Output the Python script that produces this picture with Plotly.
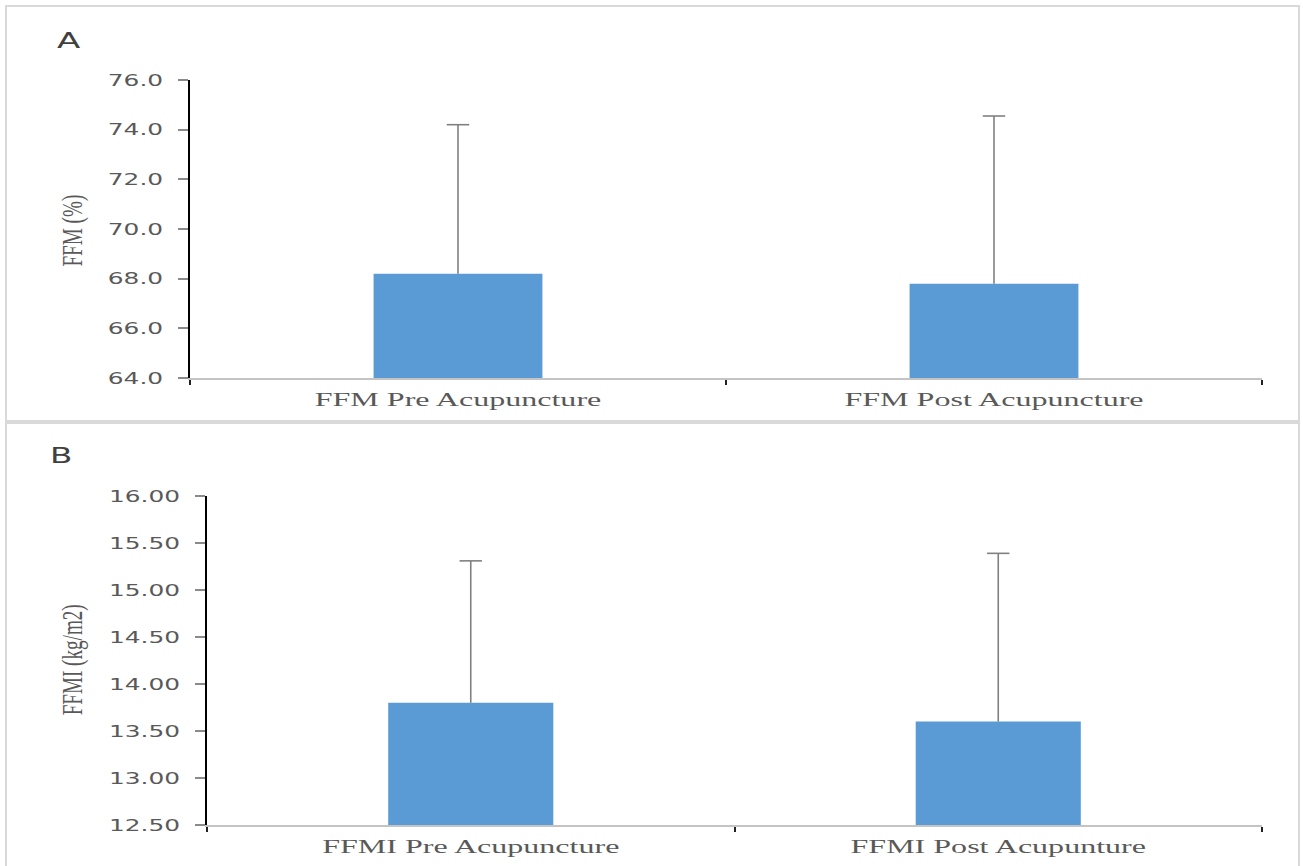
import plotly.graph_objects as go

W, H = 1303, 866

# Data
cats_a = ["FFM Pre Acupuncture", "FFM Post Acupuncture"]
vals_a = [68.2, 67.8]
err_a = [6.0, 6.75]

cats_b = ["FFMI Pre Acupuncture", "FFMI Post Acupunture"]
vals_b = [13.8, 13.6]
err_b = [1.51, 1.79]

BAR = "#5b9bd5"
ERR = "#808080"


def px_x(p):
    return p / W


def px_y(p):
    return 1 - p / H


fig = go.Figure()

err_style = dict(type="data", symmetric=False, color=ERR, thickness=1.6, width=0)

for cats, vals, errs, xa, ya, bw in [(cats_a, vals_a, err_a, "x", "y", 0.315),
                                      (cats_b, vals_b, err_b, "x2", "y2", 0.313)]:
    # bars with upward-only whiskers (no caps)
    fig.add_trace(go.Bar(x=cats, y=vals, xaxis=xa, yaxis=ya,
                         marker=dict(color=BAR, line=dict(width=0)), width=bw,
                         error_y=dict(array=errs, arrayminus=[0] * len(errs), **err_style),
                         showlegend=False))
    # caps at the top of each whisker
    tops = [v + e for v, e in zip(vals, errs)]
    fig.add_trace(go.Scatter(x=cats, y=tops, xaxis=xa, yaxis=ya, mode="markers",
                             marker=dict(symbol="line-ew-open", size=16, color=ERR,
                                         line=dict(color=ERR, width=1.6)),
                             showlegend=False, hoverinfo="skip", cliponaxis=False))

tickfont = dict(family="DejaVu Sans", size=16, color="#595959")
xfont = dict(family="Liberation Serif", size=18, color="#595959")

common_x = dict(showline=True, linecolor="#c4c4c4", linewidth=2, ticks="outside",
                tickson="boundaries", ticklen=5, tickcolor="#222222", tickwidth=1.5,
                showgrid=False, zeroline=False, tickfont=xfont, ticklabelstandoff=4,
                automargin=False, fixedrange=True)
common_y = dict(showline=True, linecolor="#000000", linewidth=1.5, ticks="outside",
                ticklen=10, tickcolor="#8a8a8a", tickwidth=1.5, showgrid=False,
                zeroline=False, tickfont=tickfont, automargin=False, fixedrange=True,
                ticklabelstandoff=12)

fig.update_layout(
    width=W, height=H,
    margin=dict(l=0, r=0, t=0, b=0),
    paper_bgcolor="white", plot_bgcolor="white",
    barmode="overlay",
    xaxis=dict(domain=[px_x(190), px_x(1262)], anchor="y", **common_x),
    yaxis=dict(domain=[px_y(378), px_y(80)], anchor="x", range=[64, 76], dtick=2,
               tickformat=".1f", **common_y),
    xaxis2=dict(domain=[px_x(207), px_x(1262)], anchor="y2", **common_x),
    yaxis2=dict(domain=[px_y(825), px_y(496)], anchor="x2", range=[12.5, 16], dtick=0.5,
                tickformat=".2f", **common_y),
)

# panel borders
for y0, y1 in [(6, 421), (423, 872)]:
    fig.add_shape(type="rect", xref="paper", yref="paper",
                  x0=px_x(6), x1=px_x(1299), y0=px_y(y1), y1=px_y(y0),
                  line=dict(color="#d9d9d9", width=2), fillcolor="rgba(0,0,0,0)")

# panel letters and axis titles
ann = dict(xref="paper", yref="paper", showarrow=False, xanchor="center", yanchor="middle")
fig.add_annotation(text="A", x=px_x(68), y=px_y(40),
                   font=dict(family="DejaVu Sans", size=22, color="#404040"), **ann)
fig.add_annotation(text="B", x=px_x(61), y=px_y(456),
                   font=dict(family="DejaVu Sans", size=21, color="#404040"), **ann)
fig.add_annotation(text="FFM (%)", x=px_x(72), y=px_y(231), textangle=-90,
                   font=dict(family="Liberation Serif", size=29, color="#595959"), **ann)
fig.add_annotation(text="FFMI (kg/m2)", x=px_x(72), y=px_y(660), textangle=-90,
                   font=dict(family="Liberation Serif", size=29, color="#595959"), **ann)

post = """
document.body.style.margin = '0';
document.body.style.overflow = 'hidden';
var gd = document.getElementById('{plot_id}');
function stretchEl(t, f){
  t.removeAttribute('textLength'); t.removeAttribute('lengthAdjust');
  var w = t.getComputedTextLength();
  if (w > 0) { t.setAttribute('textLength', (w * f).toFixed(1)); t.setAttribute('lengthAdjust', 'spacingAndGlyphs'); }
}
function sp(){
  gd.querySelectorAll('.xtick text, .x2tick text').forEach(function(t){ stretchEl(t, 1.78); });
  gd.querySelectorAll('.ytick text, .y2tick text').forEach(function(t){ stretchEl(t, 1.55); });
  gd.querySelectorAll('.annotation-text').forEach(function(t){
    var s = t.textContent;
    if (s === 'A' || s === 'B') stretchEl(t, 1.55);
    else if (s.indexOf('FFM') === 0) stretchEl(t, 0.66);
  });
}
sp();
gd.on('plotly_afterplot', sp);
"""

fig.write_html("out.html", post_script=post, config={"displayModeBar": False})
